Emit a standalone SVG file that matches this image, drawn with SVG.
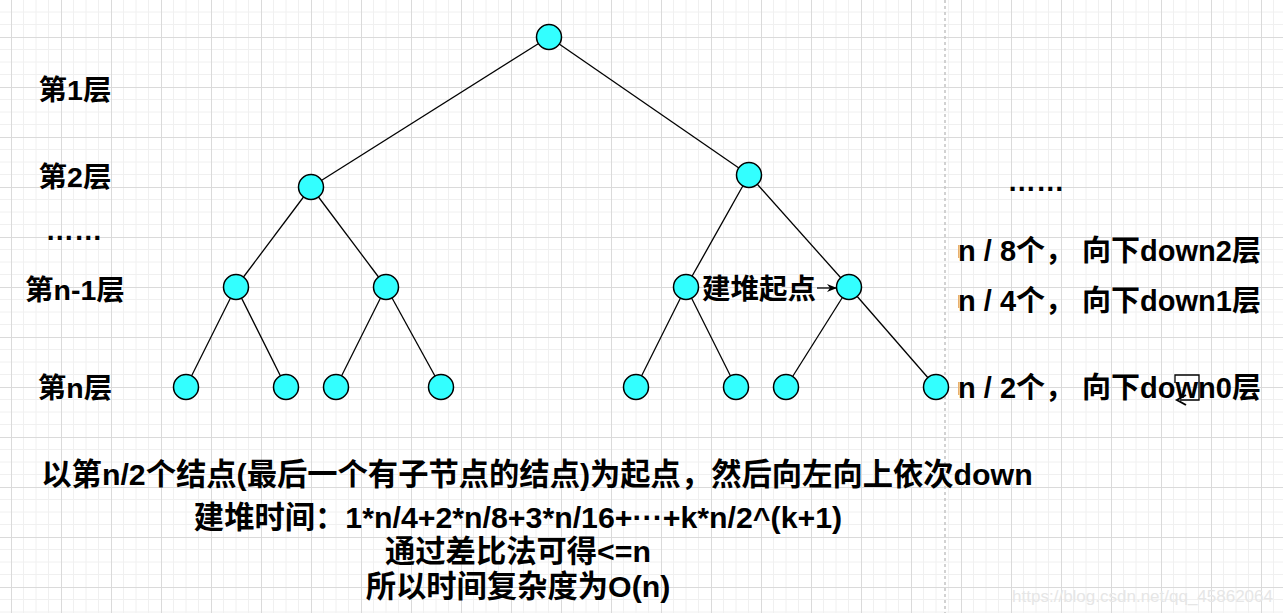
<svg xmlns="http://www.w3.org/2000/svg" width="1283" height="613" viewBox="0 0 1283 613">
<defs>
<pattern id="grid" x="11" y="37" width="50" height="50" patternUnits="userSpaceOnUse">
<path d="M12.5,0V50M25,0V50M37.5,0V50M0,12.5H50M0,25H50M0,37.5H50" stroke="#f0f0f0" stroke-width="1" fill="none"/>
<path d="M0.5,0V50M0,0.5H50" stroke="#dadada" stroke-width="1" fill="none"/>
</pattern>
<marker id="ah" viewBox="0 0 10 10" refX="9" refY="5" markerWidth="10" markerHeight="10" orient="auto" markerUnits="userSpaceOnUse">
<path d="M0,1L10,5L0,9L3,5Z" fill="#000"/>
</marker>
<style>
.n{fill:#33ffff;stroke:#000;stroke-width:1.5}
.e{stroke:#000;stroke-width:1.3;fill:none}
.t{font-family:"Liberation Sans","Noto Sans CJK SC",sans-serif;font-weight:bold;fill:#000}
.l{font-size:28.5px;text-anchor:middle}
.r{font-size:29px}
.b{font-size:30.3px;text-anchor:middle}
</style>
</defs>
<rect width="1283" height="613" fill="#fff"/>
<rect width="1283" height="613" fill="url(#grid)"/>
<line x1="945" y1="0" x2="945" y2="613" stroke="#c4c4c4" stroke-width="1.5" stroke-dasharray="3 3"/>
<g id="connectors">
<line class="e" x1="549" y1="37" x2="311" y2="187"/>
<line class="e" x1="549" y1="37" x2="749" y2="175"/>
<line class="e" x1="311" y1="187" x2="236" y2="287"/>
<line class="e" x1="311" y1="187" x2="386" y2="287"/>
<line class="e" x1="749" y1="175" x2="686" y2="287"/>
<line class="e" x1="749" y1="175" x2="849" y2="287"/>
<line class="e" x1="236" y1="287" x2="186" y2="387"/>
<line class="e" x1="236" y1="287" x2="286" y2="387"/>
<line class="e" x1="386" y1="287" x2="336" y2="387"/>
<line class="e" x1="386" y1="287" x2="441" y2="387"/>
<line class="e" x1="686" y1="287" x2="636" y2="387"/>
<line class="e" x1="686" y1="287" x2="736" y2="387"/>
<line class="e" x1="849" y1="287" x2="786" y2="387"/>
<line class="e" x1="849" y1="287" x2="936" y2="387"/>
<line class="e" x1="817" y1="288" x2="836" y2="288" marker-end="url(#ah)"/>
</g>
<g id="root"><circle class="n" cx="549" cy="37" r="12.5"/></g>
<g id="n2a"><circle class="n" cx="311" cy="187" r="12.5"/></g>
<g id="n2b"><circle class="n" cx="749" cy="175" r="12.5"/></g>
<g id="n3a"><circle class="n" cx="236" cy="287" r="12.5"/></g>
<g id="n3b"><circle class="n" cx="386" cy="287" r="12.5"/></g>
<g id="n3c"><circle class="n" cx="686" cy="287" r="12.5"/></g>
<g id="n3d"><circle class="n" cx="849" cy="287" r="12.5"/></g>
<g id="n4a"><circle class="n" cx="186" cy="387" r="12.5"/></g>
<g id="n4b"><circle class="n" cx="286" cy="387" r="12.5"/></g>
<g id="n4c"><circle class="n" cx="336" cy="387" r="12.5"/></g>
<g id="n4d"><circle class="n" cx="441" cy="387" r="12.5"/></g>
<g id="n4e"><circle class="n" cx="636" cy="387" r="12.5"/></g>
<g id="n4f"><circle class="n" cx="736" cy="387" r="12.5"/></g>
<g id="n4g"><circle class="n" cx="786" cy="387" r="12.5"/></g>
<g id="n4h"><circle class="n" cx="936" cy="387" r="12.5"/></g>
<g id="labels-left">
<text class="t l" x="75" y="100">第1层</text>
<text class="t l" x="75" y="187">第2层</text>
<text class="t l" x="74" y="240">……</text>
<text class="t l" x="75" y="300">第n-1层</text>
<text class="t l" x="75" y="398">第n层</text>
</g>
<g id="label-start"><text class="t" font-size="28.5" x="702" y="299">建堆起点</text></g>
<g id="labels-right">
<text class="t l" x="1036" y="191">……</text>
<text class="t r" x="958" y="261">n / 8个，  向下down2层</text>
<text class="t r" x="958" y="311">n / 4个，  向下down1层</text>
<text class="t r" x="958" y="398">n / 2个，  向下down0层</text>
<rect x="958" y="245" width="1.5" height="13" fill="#e8b070"/>
<rect x="958" y="295" width="1.5" height="13" fill="#e8b070"/>
<rect x="958" y="382" width="1.5" height="13" fill="#e8b070"/>
<path d="M1175,383V375H1199V400H1180" fill="none" stroke="#000" stroke-width="1.3"/>
<path d="M1186,395L1177,400L1186,405" fill="none" stroke="#000" stroke-width="2"/>
</g>
<g id="bottom-text">
<text class="t b" x="537" y="485">以第n/2个结点(最后一个有子节点的结点)为起点，然后向左向上依次down</text>
<text class="t b" x="518" y="528">建堆时间：1*n/4+2*n/8+3*n/16+···+k*n/2^(k+1)</text>
<text class="t b" x="518" y="562">通过差比法可得&lt;=n</text>
<text class="t b" x="518" y="597">所以时间复杂度为O(n)</text>
</g>
<text x="1273" y="602" text-anchor="end" font-family="Liberation Sans, sans-serif" font-size="17" fill="#e6e6e6">https://blog.csdn.net/qq_45862064</text>
</svg>
